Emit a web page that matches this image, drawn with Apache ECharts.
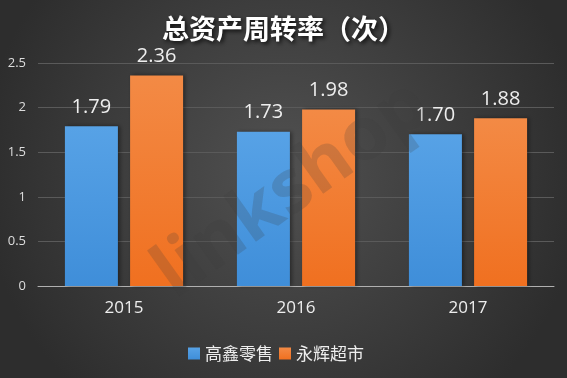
<!DOCTYPE html>
<html>
<head>
<meta charset="utf-8">
<script src="https://cdn.jsdelivr.net/npm/echarts@6/dist/echarts.min.js"></script>
<style>
  html, body { margin: 0; padding: 0; background: #333; }
  #main { width: 567px; height: 378px; }
</style>
</head>
<body>
<div id="main"></div>
<script>
// 数据
const years = ['2015', '2016', '2017'];
const gaoxin = [1.79, 1.73, 1.70];
const yonghui = [2.36, 1.98, 1.88];
const seriesNames = ['高鑫零售', '永辉超市'];

const myChart = echarts.init(document.getElementById('main'));

const labelStyle = {
  show: true,
  position: 'top',
  distance: 9,
  color: '#eeeeee',
  fontSize: 20,
  fontFamily: 'Open Sans, Noto Sans',
  formatter: p => p.value.toFixed(2)
};

const option = {
  backgroundColor: {
    type: 'radial', x: 0.5, y: 0.45, r: 0.8,
    colorStops: [
      { offset: 0, color: '#515151' },
      { offset: 1, color: '#2d2d2d' }
    ]
  },
  title: {
    text: '总资产周转率（次）',
    left: 'center',
    top: 10,
    textStyle: {
      color: '#ffffff',
      fontSize: 27,
      fontWeight: 'bold',
      fontFamily: 'Noto Sans CJK SC',
      textShadowColor: 'rgba(0,0,0,0.8)',
      textShadowBlur: 4,
      textShadowOffsetX: 2,
      textShadowOffsetY: 2
    }
  },
  legend: {
    data: seriesNames,
    left: 183,
    top: 340,
    itemWidth: 12,
    itemHeight: 12,
    itemGap: 6,
    icon: 'rect',
    textStyle: { color: '#eeeeee', fontSize: 17, fontFamily: 'Noto Sans CJK SC' }
  },
  grid: { left: 38, right: 13, top: 63, bottom: 92 },
  xAxis: {
    type: 'category',
    data: years,
    axisLine: { lineStyle: { color: '#b0b0b0', width: 1 } },
    axisTick: { show: false },
    axisLabel: { color: '#eeeeee', fontSize: 17, margin: 14, fontFamily: 'Open Sans, Noto Sans' }
  },
  yAxis: {
    type: 'value',
    min: 0,
    max: 2.5,
    interval: 0.5,
    axisLine: { show: false },
    axisTick: { show: false },
    splitLine: { lineStyle: { color: '#5a5a5a', width: 1 } },
    axisLabel: { color: '#dddddd', fontSize: 13, margin: 12, fontFamily: 'Open Sans, Noto Sans' }
  },
  // 水印
  graphic: [{
    type: 'text',
    x: 292,
    y: 190,
    rotation: 0.62,
    style: {
      text: 'linkshop',
      fontSize: 74,
      fontWeight: 'bold',
      align: 'center',
      verticalAlign: 'middle',
      fill: 'rgba(60,60,60,0.2)',
      fontFamily: 'Open Sans'
    },
    z: 100
  }],
  series: [
    {
      name: seriesNames[0],
      type: 'bar',
      data: gaoxin,
      barWidth: 53,
      barGap: '23%',
      itemStyle: {
        color: {
          type: 'linear', x: 0, y: 0, x2: 0, y2: 1,
          colorStops: [
            { offset: 0, color: '#57a2e6' },
            { offset: 1, color: '#3f8ed9' }
          ]
        },
        shadowColor: 'rgba(0,0,0,0.4)',
        shadowBlur: 4,
        shadowOffsetX: 2
      },
      label: labelStyle
    },
    {
      name: seriesNames[1],
      type: 'bar',
      data: yonghui,
      barWidth: 53,
      itemStyle: {
        color: {
          type: 'linear', x: 0, y: 0, x2: 0, y2: 1,
          colorStops: [
            { offset: 0, color: '#f38a45' },
            { offset: 1, color: '#f07020' }
          ]
        },
        shadowColor: 'rgba(0,0,0,0.4)',
        shadowBlur: 4,
        shadowOffsetX: 2
      },
      label: labelStyle
    }
  ]
};

myChart.setOption(option);
</script>
</body>
</html>
